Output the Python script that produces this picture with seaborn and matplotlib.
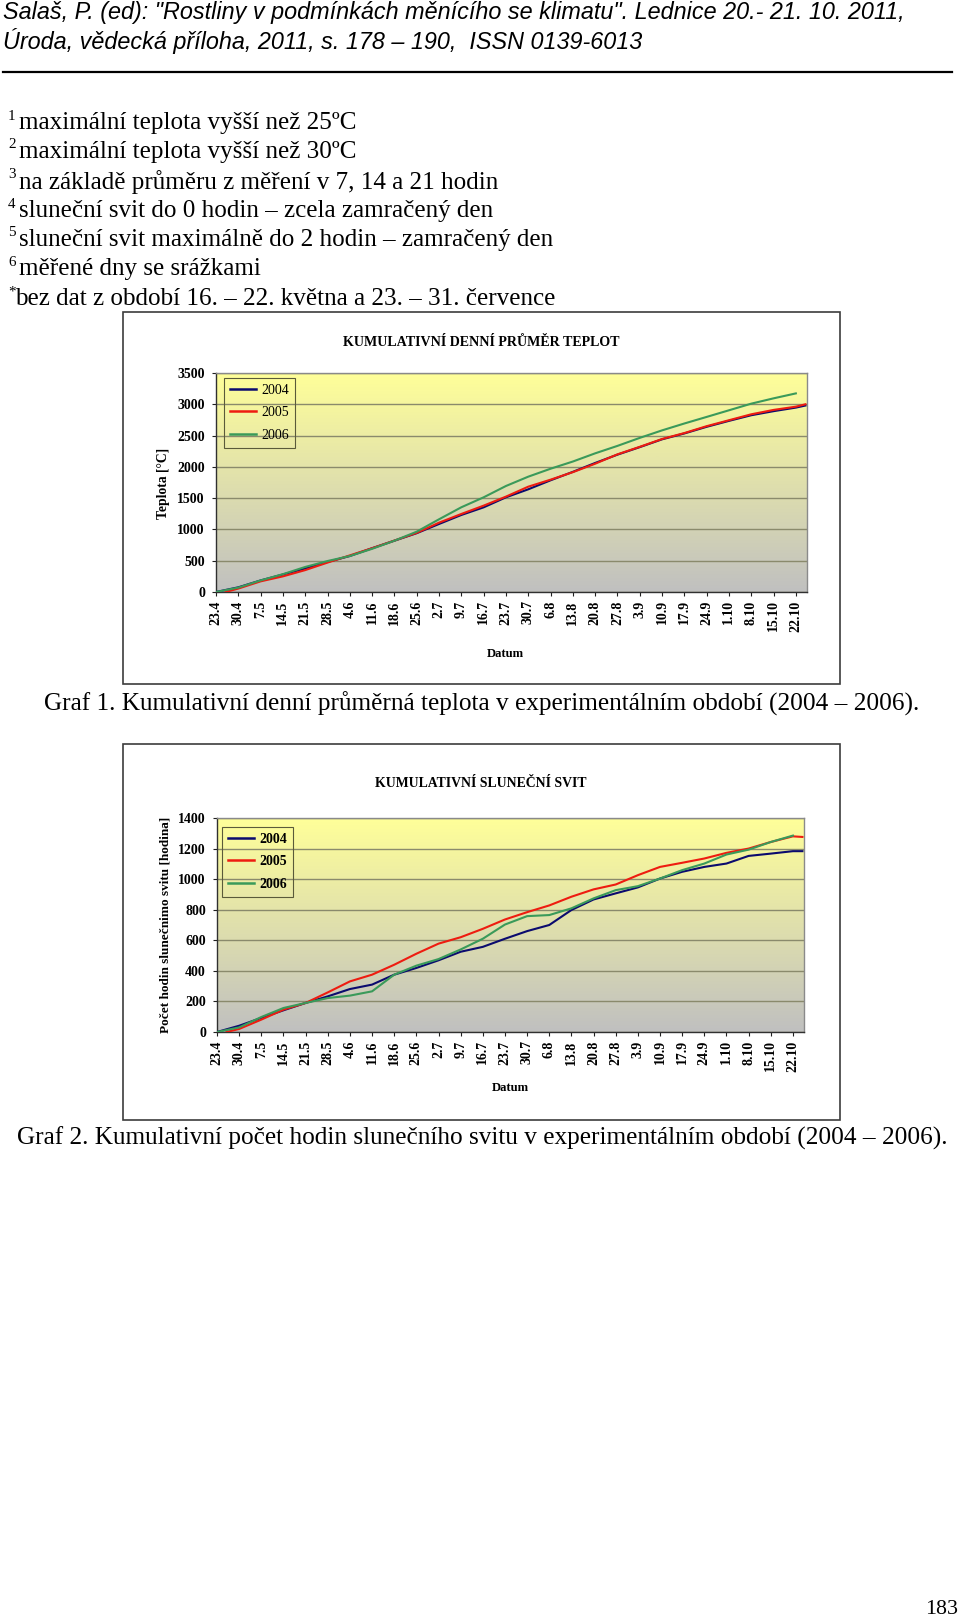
import numpy as np
import pandas as pd
import matplotlib
matplotlib.use("Agg")
import matplotlib.pyplot as plt
import seaborn as sns
from matplotlib.patches import Rectangle
from matplotlib.colors import LinearSegmentedColormap

# ---------------- data ----------------
years = ["2004", "2005", "2006"]
tick_days = [0, 7, 14, 21, 28, 35, 42, 49, 56, 63, 70, 77, 84, 91, 98, 105,
             112, 119, 126, 133, 140, 147, 154, 161, 168, 175, 182]
tick_labels = ["23.4", "30.4", "7.5", "14.5", "21.5", "28.5", "4.6", "11.6",
               "18.6", "25.6", "2.7", "9.7", "16.7", "23.7", "30.7", "6.8",
               "13.8", "20.8", "27.8", "3.9", "10.9", "17.9", "24.9", "1.10",
               "8.10", "15.10", "22.10"]

days_2004 = [0, 7, 14, 21, 28, 35, 42, 49, 56, 63, 70, 77, 84, 91, 98, 105,
             112, 119, 126, 133, 140, 147, 154, 161, 168, 175, 182, 185]
days_2005 = [3, 7, 14, 21, 28, 35, 42, 49, 56, 63, 70, 77, 84, 91, 98, 105,
             112, 119, 126, 133, 140, 147, 154, 161, 168, 175, 182, 185]
days_2006 = [0, 7, 14, 21, 28, 35, 42, 49, 56, 63, 70, 77, 84, 91, 98, 105,
             112, 119, 126, 133, 140, 147, 154, 161, 168, 175, 182]

temp_2004 = [0, 75, 185, 280, 375, 480, 575, 700, 820, 940, 1087, 1231, 1353,
             1513, 1641, 1785, 1920, 2062, 2195, 2315, 2440, 2534, 2640, 2735,
             2825, 2890, 2947, 2980]
temp_2005 = [0, 55, 170, 250, 350, 470, 585, 700, 822, 945, 1108, 1247, 1380,
             1524, 1683, 1795, 1915, 2050, 2200, 2320, 2445, 2540, 2650, 2745,
             2840, 2910, 2962, 3000]
temp_2006 = [0, 70, 185, 285, 400, 495, 575, 690, 820, 964, 1162, 1354, 1513,
             1694, 1843, 1970, 2085, 2216, 2335, 2463, 2583, 2693, 2798, 2904,
             3010, 3095, 3174]

sun_2004 = [0, 41, 92, 142, 190, 233, 281, 310, 375, 419, 469, 525, 557, 610,
            660, 700, 798, 867, 907, 946, 1004, 1048, 1080, 1102, 1152, 1167,
            1183, 1183]
sun_2005 = [0, 20, 81, 146, 190, 259, 331, 375, 440, 512, 578, 620, 675, 736,
            784, 828, 885, 933, 965, 1026, 1080, 1107, 1135, 1172, 1200, 1243,
            1280, 1276]
sun_2006 = [0, 30, 98, 157, 190, 222, 238, 266, 375, 434, 477, 540, 610, 703,
            758, 765, 809, 874, 928, 954, 1004, 1059, 1102, 1161, 1193, 1243,
            1285]

colors = {"2004": "#0b0b6e", "2005": "#ee1c10", "2006": "#3a9a5a"}

header_lines = ['Salaš, P. (ed): "Rostliny v podmínkách měnícího se klimatu". Lednice 20.- 21. 10. 2011,',
                'Úroda, vědecká příloha, 2011, s. 178 – 190,  ISSN 0139-6013']
note_marks = ["1", "2", "3", "4", "5", "6", "*"]
note_texts = ["maximální teplota vyšší než 25ºC",
              "maximální teplota vyšší než 30ºC",
              "na základě průměru z měření v 7, 14 a 21 hodin",
              "sluneční svit do 0 hodin – zcela zamračený den",
              "sluneční svit maximálně do 2 hodin – zamračený den",
              "měřené dny se srážkami",
              "bez dat z období 16. – 22. května a 23. – 31. července"]
title1 = "KUMULATIVNÍ DENNÍ PRŮMĚR TEPLOT"
title2 = "KUMULATIVNÍ SLUNEČNÍ SVIT"
ylabel1 = "Teplota [°C]"
ylabel2 = "Počet hodin slunečnimo svitu [hodina]"
xlabel = "Datum"
caption1 = "Graf 1. Kumulativní denní průměrná teplota v experimentálním období (2004 – 2006)."
caption2 = "Graf 2. Kumulativní počet hodin slunečního svitu v experimentálním období (2004 – 2006)."
page_no = "183"

# ---------------- figure ----------------
plt.rcParams["font.family"] = ["Liberation Serif", "DejaVu Serif"]
W, H = 960, 1620
fig = plt.figure(figsize=(W / 100, H / 100), dpi=100)
fig.patch.set_facecolor("white")
renderer = fig.canvas.get_renderer()


def fx(x):
    return x / W


def fy(y):
    return 1 - y / H


def ftext(x, y, s, **kw):
    return fig.text(fx(x), fy(y), s, **kw)


def fit(t, target, vertical=False):
    bb = t.get_window_extent(renderer=renderer)
    cur = bb.height if vertical else bb.width
    t.set_fontsize(t.get_fontsize() * target / cur)
    return t.get_fontsize()


# header
hfam = ["Liberation Sans Narrow", "Liberation Sans"]
h1 = ftext(3, 13, header_lines[0], family=hfam, style="italic", fontsize=16, va="center", ha="left")
hs = fit(h1, 899)
h2 = ftext(3, 41, header_lines[1], family=hfam, style="italic", fontsize=hs, va="center", ha="left")
fig.add_artist(plt.Line2D([fx(3), fx(952)], [fy(72), fy(72)], color="black", lw=1.6, transform=fig.transFigure))

# footnotes
note_y = [123, 152, 182, 211, 240, 269, 299]
probe = ftext(19, 0, note_texts[4], fontsize=16, va="center")
ns = fit(probe, 536)
probe.remove()
for mark, txt, yy in zip(note_marks, note_texts, note_y):
    ftext(19 if mark != "*" else 15, yy, txt, fontsize=ns, va="center", ha="left")
    ftext(8, yy - 7, mark, fontsize=ns * 0.6, va="center", ha="left")

# frames
for (l, t, r, b) in [(123, 312, 840, 684), (123, 744, 840, 1120)]:
    fig.add_artist(Rectangle((fx(l), fy(b)), (r - l) / W, (b - t) / H, transform=fig.transFigure,
                             fill=False, edgecolor="#3c3c3c", lw=1.2))

grad_cmap = LinearSegmentedColormap.from_list("g", ["#C0C0C0", "#FFFF99"])


def long_df(days_list, vals_list):
    frames = [pd.DataFrame({"day": d, "value": v, "year": y})
              for y, d, v in zip(years, days_list, vals_list)]
    return pd.concat(frames, ignore_index=True)


def draw_chart(box, df, ymax, ystep, legend_anchor, legend_bold):
    l, t, r, b = box
    ax = fig.add_axes([fx(l), fy(b), (r - l) / W, (b - t) / H])
    grad = np.linspace(0, 1, 256)[:, None]
    ax.imshow(grad, extent=[0, 1, 0, 1], transform=ax.transAxes, cmap=grad_cmap,
              aspect="auto", origin="lower", zorder=0, interpolation="bilinear")
    sns.lineplot(data=df, x="day", y="value", hue="year", palette=colors,
                 hue_order=years, ax=ax, linewidth=1.5, legend=False, zorder=3,
                 sort=True, estimator=None)
    ax.set_xlim(0, 185.5)
    ax.set_ylim(0, ymax)
    ax.set_yticks(np.arange(0, ymax + 1, ystep))
    ax.set_xticks(tick_days)
    ax.set_xticklabels(tick_labels, rotation=90)
    ax.set_axisbelow(True)
    ax.yaxis.grid(True, color="#8a8a6c", lw=1.0)
    ax.xaxis.grid(False)
    ax.set_xlabel("")
    ax.set_ylabel("")
    for s in ax.spines.values():
        s.set_color("#8a8a8a")
        s.set_linewidth(1.0)
    ax.spines["left"].set_color("#303030")
    ax.spines["bottom"].set_color("#303030")
    ax.tick_params(axis="x", length=3, width=0.8, pad=3, labelsize=10, colors="#202020")
    ax.tick_params(axis="y", length=3, width=0.8, pad=5, labelsize=10, colors="#202020")
    for lab in ax.get_xticklabels() + ax.get_yticklabels():
        lab.set_fontweight("bold")
        lab.set_color("black")
    leg = ax.legend(handles=ax.lines[:3], labels=years, loc="upper left",
                    bbox_to_anchor=legend_anchor, frameon=True, fancybox=False,
                    facecolor="none", edgecolor="#5a5a3a", framealpha=1,
                    prop={"family": "Liberation Serif", "size": 10,
                          "weight": "bold" if legend_bold else "normal"},
                    handlelength=1.9, borderpad=0.4, labelspacing=0.7,
                    handletextpad=0.4, borderaxespad=0)
    leg.get_frame().set_linewidth(0.8)
    for h in leg.get_lines():
        h.set_linewidth(1.8)
    return ax


box1 = (216, 373, 807, 592)
box2 = (217, 818, 804, 1032)
ax1 = draw_chart(box1, long_df([days_2004, days_2005, days_2006], [temp_2004, temp_2005, temp_2006]),
                 3500, 500, ((224 - 216) / 591, 1 - (378 - 373) / 219), False)
ax2 = draw_chart(box2, long_df([days_2004, days_2005, days_2006], [sun_2004, sun_2005, sun_2006]),
                 1400, 200, ((222 - 217) / 587, 1 - (827 - 818) / 214), True)

# chart texts
t = ftext(481, 342, title1, fontweight="bold", fontsize=10, ha="center", va="center")
fit(t, 277)
t = ftext(481, 783, title2, fontweight="bold", fontsize=10, ha="center", va="center")
fit(t, 212)
t = ftext(164, 483, ylabel1, fontweight="bold", fontsize=10, rotation=90, ha="center", va="center")
fit(t, 71, vertical=True)
t = ftext(166, 925, ylabel2, fontweight="bold", fontsize=10, rotation=90, ha="center", va="center")
fit(t, 217, vertical=True)
t = ftext(505, 654, xlabel, fontweight="bold", fontsize=10, ha="center", va="center")
fit(t, 37)
t = ftext(510, 1088, xlabel, fontweight="bold", fontsize=10, ha="center", va="center")
fit(t, 37)

# captions
t = ftext(44, 704, caption1, fontsize=16, ha="left", va="center")
fit(t, 876)
t = ftext(17, 1138, caption2, fontsize=16, ha="left", va="center")
fit(t, 930)
t = ftext(942, 1610, page_no, fontsize=14, ha="center", va="center")
fit(t, 33)

fig.savefig("out.png", dpi=100, facecolor="white")
